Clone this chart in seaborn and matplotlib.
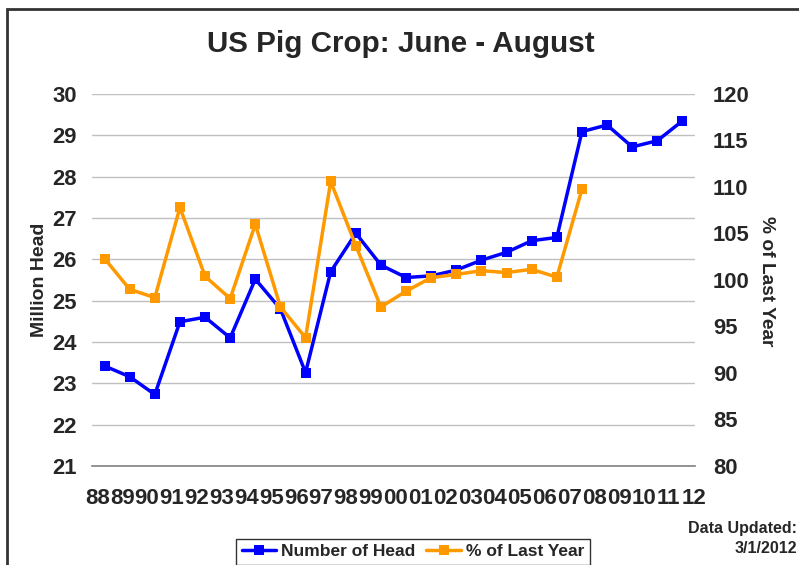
import numpy as np
import pandas as pd
import matplotlib
matplotlib.use("Agg")
import matplotlib.pyplot as plt
import seaborn as sns
from matplotlib.lines import Line2D
from matplotlib.patches import Rectangle

# ---- data ----
years = ['88', '89', '90', '91', '92', '93', '94', '95', '96', '97', '98', '99',
         '00', '01', '02', '03', '04', '05', '06', '07', '08', '09', '10', '11']
tick_labels = ['88', '89', '90', '91', '92', '93', '94', '95', '96', '97', '98', '99',
               '00', '01', '02', '03', '04', '05', '06', '07', '08', '09', '10', '11', '12']
head = [23.42, 23.16, 22.73, 24.49, 24.60, 24.10, 25.52, 24.80, 23.26, 25.70, 26.63, 25.86,
        25.56, 25.60, 25.74, 25.98, 26.17, 26.45, 26.53, 29.09, 29.25, 28.72, 28.87, 29.35]
pct_last_year = [102.3, 99.0, 98.1, 107.8, 100.4, 98.0, 106.0, 97.1, 93.8, 110.6, 103.7, 97.1,
                 98.8, 100.25, 100.6, 101.0, 100.8, 101.15, 100.3, 109.75]

df_head = pd.DataFrame({'pos': np.arange(len(years)), 'val': head})
df_pct = pd.DataFrame({'pos': np.arange(len(pct_last_year)), 'val': pct_last_year})

sns.set_style("white")
plt.rcParams['font.family'] = ['Liberation Sans', 'DejaVu Sans']
plt.rcParams['font.weight'] = 'bold'

W, H = 799, 565
fig = plt.figure(figsize=(W / 100, H / 100), dpi=100)
ax = fig.add_axes([92 / W, 1 - 466 / H, (695 - 92) / W, (466 - 94) / H])
ax2 = ax.twinx()

blue = '#0000FF'
orange = '#FF9900'

sns.lineplot(data=df_head, x='pos', y='val', ax=ax, color=blue, lw=2.5,
             marker='s', markersize=7, markeredgewidth=0, sort=False, zorder=3)
sns.lineplot(data=df_pct, x='pos', y='val', ax=ax2, color=orange, lw=2.5,
             marker='s', markersize=7.5, markeredgewidth=0, sort=False, zorder=3)

ax.set_ylim(21, 30)
ax2.set_ylim(80, 120)
ax.set_xlim(-0.5, len(years) - 0.5)
ax.set_yticks(np.arange(21, 31, 1))
ax2.set_yticks(np.arange(80, 121, 5))

ax.yaxis.grid(True, color='#c0c0c0', lw=1)
ax.set_axisbelow(True)

for a in (ax, ax2):
    for s in ('left', 'right', 'top', 'bottom'):
        a.spines[s].set_visible(False)
ax.spines['bottom'].set_visible(True)
ax.spines['bottom'].set_color('#808080')
ax.spines['bottom'].set_linewidth(1.2)

ax.tick_params(axis='y', length=0, pad=11, labelsize=15.8)
ax2.tick_params(axis='y', length=0, pad=13, labelsize=15.8)
for lab in ax.get_yticklabels() + ax2.get_yticklabels():
    lab.set_fontweight('bold')

# x tick labels (25 labels spread across the axis) and boundary tick marks
n = len(tick_labels)
label_pos = [-0.285 + 0.9887 * i for i in range(n)]
ax.set_xticks(label_pos)
ax.set_xticklabels(tick_labels, fontsize=16, fontweight='bold')
ax.tick_params(axis='x', which='major', length=0, pad=16)
ax.set_xticks(np.arange(-0.5, len(years), 1.0), minor=True)
ax.tick_params(axis='x', which='minor', length=6, width=1.2, color='#808080', direction='out')

ax.set_xlabel('')
ax.set_ylabel('')
ax2.set_ylabel('')

fig.text(40 / W, 1 - 280 / H, 'Million Head', rotation=90, ha='center', va='center',
         fontsize=14, fontweight='bold')
fig.text(767 / W, 1 - 281 / H, '% of Last Year', rotation=270, ha='center', va='center',
         fontsize=13.8, fontweight='bold')
fig.text(401 / W, 1 - 44 / H, 'US Pig Crop: June - August', ha='center', va='center',
         fontsize=21.3, fontweight='bold')
fig.text(797 / W, 1 - 521 / H, 'Data Updated:\n3/1/2012', ha='right', va='top',
         fontsize=11.5, fontweight='bold', multialignment='right', linespacing=1.4)

handles = [Line2D([], [], color=blue, lw=2.5, marker='s', markersize=6.5, markeredgewidth=0),
           Line2D([], [], color=orange, lw=2.5, marker='s', markersize=6.5, markeredgewidth=0)]
leg = fig.legend(handles, ['Number of Head', '% of Last Year'], loc='upper center',
                 bbox_to_anchor=(413 / W, 1 - 539 / H), ncol=2, frameon=True, fancybox=False,
                 prop={'size': 12.5, 'weight': 'bold'}, handlelength=2.0, handletextpad=0.3,
                 columnspacing=0.6, borderpad=0.3, borderaxespad=0)
leg.get_frame().set_edgecolor('black')
leg.get_frame().set_linewidth(1.0)

# outer chart border (top and left visible)
fig.patches.append(Rectangle((7 / W, -0.1), 1.2, 1 - 9 / H + 0.1, transform=fig.transFigure,
                             fill=False, edgecolor='#333333', lw=2, zorder=10))

fig.savefig('out.png', dpi=100)
